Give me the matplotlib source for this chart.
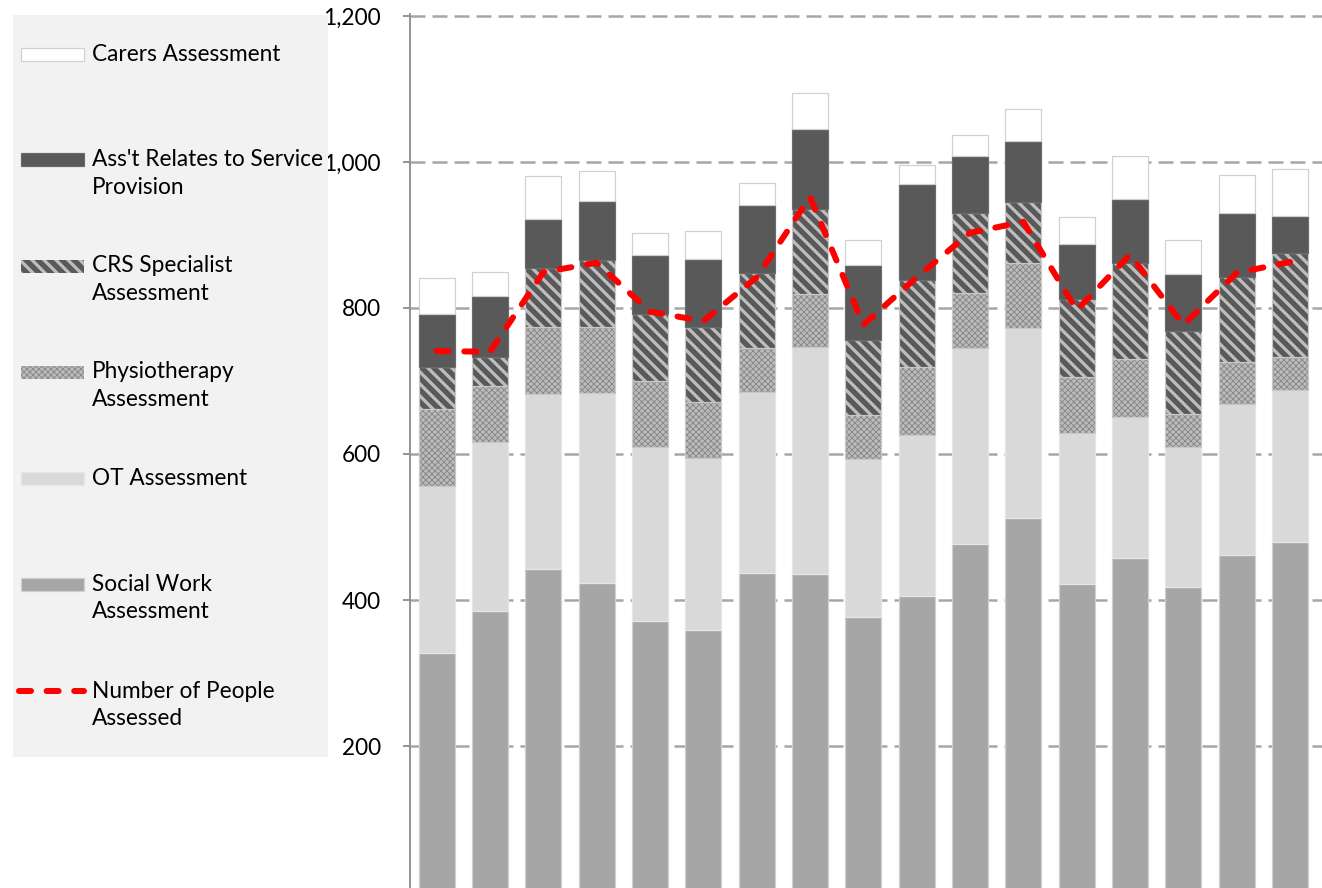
import matplotlib
matplotlib.use("Agg")
import matplotlib.pyplot as plt
from matplotlib.patches import Rectangle
from matplotlib.lines import Line2D
from matplotlib.ticker import FuncFormatter
import numpy as np

# assessments per period (stacked, bottom -> top)
social_work = [327, 385, 442, 423, 371, 359, 437, 436, 377, 405, 477, 512, 422, 458, 418, 462, 480]
ot_assess = [229, 231, 240, 261, 239, 235, 248, 311, 216, 221, 268, 261, 207, 193, 192, 206, 208]
physio = [106, 77, 92, 90, 90, 77, 60, 72, 60, 93, 75, 89, 76, 79, 45, 58, 45]
crs_spec = [57, 40, 81, 92, 92, 103, 103, 117, 103, 119, 110, 83, 107, 132, 113, 116, 142]
service_prov = [73, 83, 67, 81, 81, 93, 93, 109, 103, 132, 78, 84, 76, 87, 79, 88, 51]
carers = [49, 33, 59, 41, 30, 38, 30, 49, 34, 26, 29, 44, 37, 59, 46, 52, 64]
people = [741, 740, 849, 862, 795, 782, 842, 952, 777, 842, 903, 918, 797, 873, 777, 848, 863]

DPI = 144
W, H = 1322, 888
FS = 11.3
plt.rcParams['font.family'] = ['Lato', 'DejaVu Sans']
plt.rcParams['font.size'] = FS

fig = plt.figure(figsize=(W / DPI, H / DPI), dpi=DPI)

# main axes: left edge at x=410px, top at y=14px, runs off the bottom
ax = fig.add_axes([410 / W, 0, (W - 410) / W, (H - 14) / H])

styles = [
    dict(label="Social Work\nAssessment", color="#A6A6A6", edge="#D0D0D0", hatch=None, hlw=1),
    dict(label="OT Assessment", color="#D9D9D9", edge="#E6E6E6", hatch=None, hlw=1),
    dict(label="Physiotherapy\nAssessment", color="#BCBCBC", edge="#8A8A8A", hatch="xxxxxxxx", hlw=0.5),
    dict(label="CRS Specialist\nAssessment", color="#595959", edge="#BDBDBD", hatch="\\\\\\\\", hlw=1.6),
    dict(label="Ass't Relates to Service\nProvision", color="#595959", edge="#6A6A6A", hatch=None, hlw=1),
    dict(label="Carers Assessment", color="#FFFFFF", edge="#D0D0D0", hatch=None, hlw=1),
]
series = [social_work, ot_assess, physio, crs_spec, service_prov, carers]

x = np.arange(len(social_work))
bottom = np.zeros(len(x))
for vals, st in zip(series, styles):
    lw = 0 if st['hatch'] else 0.6
    with plt.rc_context({'hatch.linewidth': st['hlw']}):
        bars = ax.bar(x, vals, width=0.675, bottom=bottom, color=st['color'],
                      edgecolor=st['edge'], linewidth=lw, hatch=st['hatch'], zorder=2)
    for b in bars:
        if hasattr(b, 'set_hatch_linewidth'):
            b.set_hatch_linewidth(st['hlw'])
    if st['hatch']:
        # light outline around the patterned segments
        ax.bar(x, vals, width=0.675, bottom=bottom, fill=False,
               edgecolor="#C8C8C8", linewidth=0.6, zorder=2)
    bottom += np.array(vals)

plt.rcParams['hatch.linewidth'] = 1.6

ax.plot(x, people, color="#FF0000", lw=3, linestyle=(0, (2, 2.6)),
        dash_capstyle='round', solid_joinstyle='round', zorder=3)

ax.set_xlim(-0.5, 16.6)
ax.set_ylim(5.5, 1202.7)
ax.set_yticks([200, 400, 600, 800, 1000, 1200])
ax.yaxis.set_major_formatter(FuncFormatter(lambda v, p: f"{int(v):,}"))
ax.set_xticks([])
ax.grid(axis='y', color="#A6A6A6", lw=1.25, linestyle=(0, (6, 2.8)), zorder=0)
ax.set_axisbelow(True)
for s in ['top', 'right', 'bottom']:
    ax.spines[s].set_visible(False)
ax.spines['left'].set_color("#8C8C8C")
ax.spines['left'].set_linewidth(0.9)
ax.tick_params(axis='y', length=3.5, width=0.9, color="#8C8C8C", pad=11, labelsize=FS)

# legend panel on the left
lx0, ly0, lx1, ly1 = 13, 15, 328, 757
lax = fig.add_axes([lx0 / W, (H - ly1) / H, (lx1 - lx0) / W, (ly1 - ly0) / H])
lax.set_facecolor("#F2F2F2")
lax.set_xlim(lx0, lx1)
lax.set_ylim(ly1, ly0)
lax.set_xticks([])
lax.set_yticks([])
for s in lax.spines.values():
    s.set_visible(False)

order = [5, 4, 3, 2, 1, 0]
centers = [54.5, 159.5, 266, 372, 478.5, 584.5]
for i, yc in zip(order, centers):
    st = styles[i]
    with plt.rc_context({'hatch.linewidth': st['hlw']}):
        r = Rectangle((21, yc - 6.5), 63, 13, facecolor=st['color'], edgecolor=st['edge'],
                      linewidth=0 if st['hatch'] else 0.6, hatch=st['hatch'])
    if hasattr(r, 'set_hatch_linewidth'):
        r.set_hatch_linewidth(st['hlw'])
    lax.add_patch(r)
    for k, line in enumerate(st['label'].split("\n")):
        lax.text(92, yc + k * 27.5, line, va='center', ha='left', fontsize=FS, color="#000000")

lax.add_line(Line2D([19, 84], [691, 691], color="#FF0000", lw=3, linestyle=(0, (2, 2.6)),
                    dash_capstyle='round'))
for k, line in enumerate(["Number of People", "Assessed"]):
    lax.text(92, 691 + k * 27.5, line, va='center', ha='left', fontsize=FS, color="#000000")

fig.savefig("out.png", dpi=DPI)
